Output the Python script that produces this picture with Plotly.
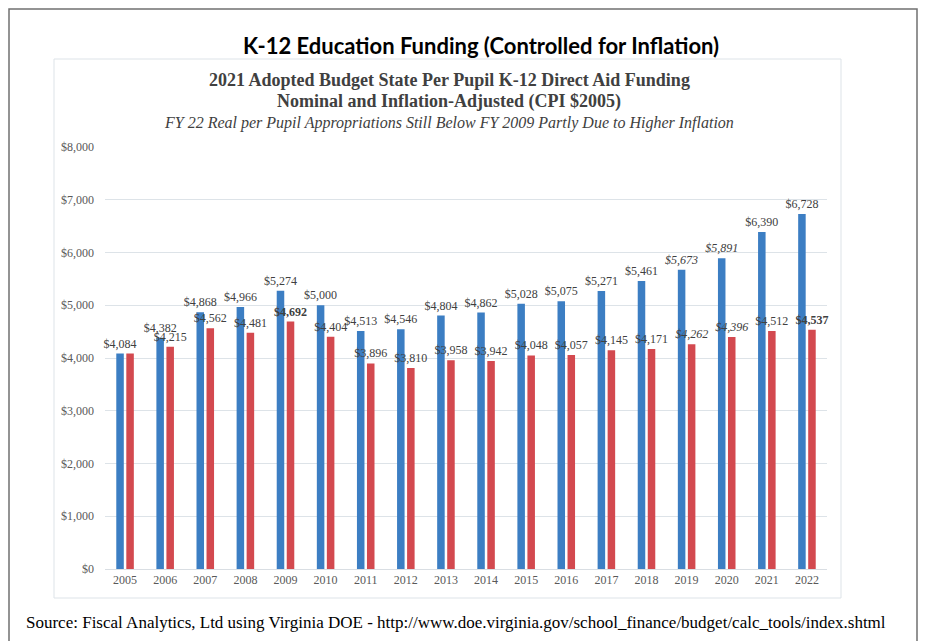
import plotly.graph_objects as go

years = [str(y) for y in range(2005, 2023)]
nominal = [4084, 4382, 4868, 4966, 5274, 5000, 4513, 4546, 4804, 4862,
           5028, 5075, 5271, 5461, 5673, 5891, 6390, 6728]
real = [4084, 4215, 4562, 4481, 4692, 4404, 3896, 3810, 3958, 3942,
        4048, 4057, 4145, 4171, 4262, 4396, 4512, 4537]
ytick_vals = [0, 1000, 2000, 3000, 4000, 5000, 6000, 7000, 8000]
ytick_text = ["$0", "$1,000", "$2,000", "$3,000", "$4,000", "$5,000", "$6,000", "$7,000", "$8,000"]

italic_years = {"2019", "2020"}
bold_real_years = {"2009", "2022"}
hidden_real_label_years = {"2005"}  # same value as nominal; reference shows one label


def fmt(v):
    return "${:,}".format(v)


nom_text = []
for y, v in zip(years, nominal):
    t = fmt(v)
    if y in italic_years:
        t = "<i>" + t + "</i>"
    nom_text.append(t)

real_text = []
for y, v in zip(years, real):
    t = fmt(v)
    if y in italic_years:
        t = "<i>" + t + "</i>"
    if y in bold_real_years:
        t = "<b>" + t + "</b>"
    if y in hidden_real_label_years:
        t = ""
    real_text.append(t)

BLUE = "#3C7EC3"
RED = "#D3494F"
LABEL_FONT = dict(family="Liberation Serif, Times New Roman, serif", size=12, color="#404040")

fig = go.Figure()
fig.add_trace(go.Bar(x=years, y=nominal, name="Nominal", marker=dict(color=BLUE, line=dict(width=0)),
                     text=nom_text, textposition="outside", textfont=LABEL_FONT,
                     constraintext="none", cliponaxis=False))
fig.add_trace(go.Bar(x=years, y=real, name="Inflation-Adjusted", marker=dict(color=RED, line=dict(width=0)),
                     text=real_text, textposition="outside", textfont=LABEL_FONT,
                     constraintext="none", cliponaxis=False))

# page body has an 8px margin; work in reference-page pixels and convert
OFF = 8
W, H = 926 - OFF, 641 - OFF
PL, PR, PT, PB = 105, 827, 147, 569  # plot area in page pixels
L = PL - OFF
R = W - (PR - OFF)
T = PT - OFF
B = H - (PB - OFF)
pw = PR - PL
ph = PB - PT


def px(x):
    return (x - PL) / pw


def py(y):
    return (PB - y) / ph


annotations = [
    dict(text="<b>K-12 Education Funding (Controlled for Inflation)</b>", x=px(481), y=py(46),
         font=dict(family="Lato, Open Sans, sans-serif", size=22, color="#000000")),
    dict(text="<b>2021 Adopted Budget State Per Pupil K-12 Direct Aid Funding</b>", x=px(449), y=py(80),
         font=dict(family="Liberation Serif, serif", size=18, color="#404040")),
    dict(text="<b>Nominal and Inflation-Adjusted (CPI $2005)</b>", x=px(449), y=py(102),
         font=dict(family="Liberation Serif, serif", size=18, color="#404040")),
    dict(text="<i>FY 22 Real per Pupil Appropriations Still Below FY 2009 Partly Due to Higher Inflation</i>",
         x=px(449), y=py(123),
         font=dict(family="Liberation Serif, serif", size=16, color="#404040")),
    dict(text="Source: Fiscal Analytics, Ltd using Virginia DOE - http://www.doe.virginia.gov/school_finance/budget/calc_tools/index.shtml",
         x=px(456), y=py(622),
         font=dict(family="Liberation Serif, serif", size=17, color="#000000")),
]
for a in annotations:
    a.update(xref="paper", yref="paper", xanchor="center", yanchor="middle", showarrow=False)

shapes = [
    dict(type="rect", xref="paper", yref="paper", x0=px(OFF + 1), x1=px(917), y0=py(680), y1=py(OFF + 1),
         line=dict(color="#707070", width=1.5), fillcolor="rgba(0,0,0,0)", layer="below"),
    dict(type="rect", xref="paper", yref="paper", x0=px(54), x1=px(841), y0=py(598), y1=py(59),
         line=dict(color="#DDE3E8", width=1), fillcolor="rgba(0,0,0,0)", layer="below"),
]

fig.update_layout(
    width=W, height=H,
    margin=dict(l=L, r=R, t=T, b=B, pad=0),
    paper_bgcolor="white", plot_bgcolor="white",
    barmode="group", bargap=0.5, bargroupgap=0.25,
    showlegend=False,
    annotations=annotations, shapes=shapes,
    font=dict(family="Liberation Serif, serif", color="#595959"),
)
fig.update_xaxes(type="category", showgrid=False, showline=True, linecolor="#D9DEE3", linewidth=1,
                 ticks="", tickfont=dict(family="Liberation Serif, serif", size=12, color="#595959"))
fig.update_yaxes(range=[0, 8000], tickvals=ytick_vals, ticktext=ytick_text, showgrid=True,
                 gridcolor="#DDE3E8", gridwidth=1, zeroline=False, showline=False, ticks="",
                 ticklabelstandoff=10,
                 tickfont=dict(family="Liberation Serif, serif", size=12, color="#595959"))

fig.write_html("out.html")
